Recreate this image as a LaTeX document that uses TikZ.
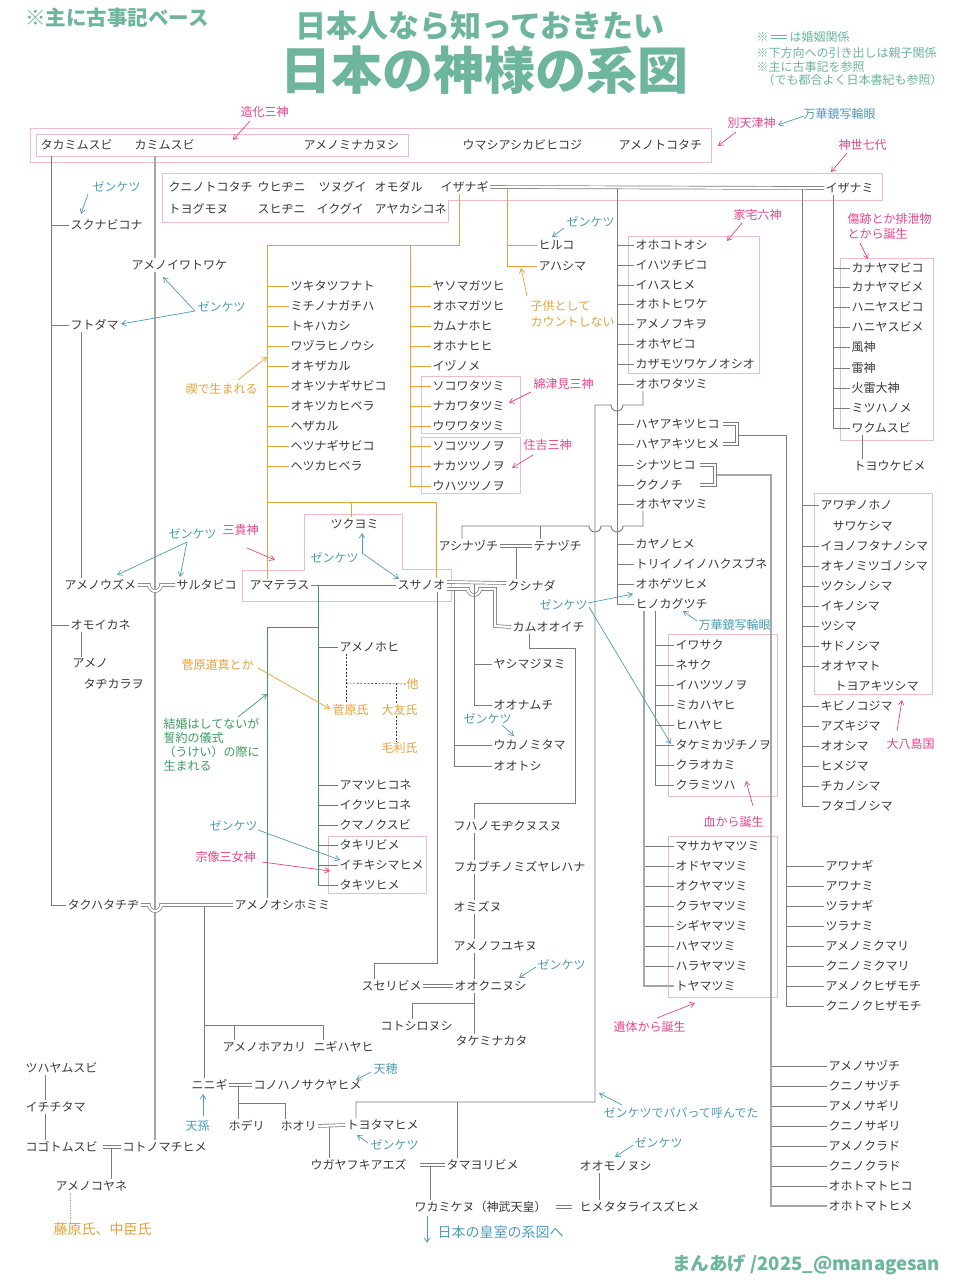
\documentclass[tikz,border=0pt]{standalone}
\usepackage{fontspec}
\setmainfont{Noto Sans CJK JP}
\usetikzlibrary{arrows.meta}
\definecolor{ink}{HTML}{3A3A3A}
\definecolor{ctl}{HTML}{6DB59C}
\definecolor{cpk}{HTML}{E2468C}
\definecolor{cbl}{HTML}{4F9CB9}
\definecolor{cor}{HTML}{E6A23C}
\definecolor{cgr}{HTML}{3E9A60}
\definecolor{cbox}{HTML}{EDBBCF}
\definecolor{cln}{HTML}{7C7C7C}
\definecolor{cln2}{HTML}{A6A6A6}
\tikzset{
  nm/.style={font=\fontsize{12}{13}\selectfont, text=ink, anchor=west, inner sep=1.5pt},
  lab/.style={font=\fontsize{12}{13}\selectfont, anchor=west, inner sep=0.5pt},
  gl/.style={draw=cln, line width=0.9pt},
  glt/.style={draw=cln2, line width=1.4pt},
  ol/.style={draw=cor, line width=0.9pt},
  grl/.style={draw=cgr, line width=0.9pt},
  pbox/.style={draw=cbox, line width=0.9pt},
  marr/.style={draw=cln, double=white, double distance=2.2pt, line width=0.7pt},
  ar/.style={-{Straight Barb[length=4.5pt,width=5.5pt]}, line width=0.7pt},
  dsh/.style={draw=ink, dash pattern=on 2pt off 1.6pt, line width=0.6pt},
}
\begin{document}
\begin{tikzpicture}[x=1pt,y=-1pt]
\useasboundingbox (0,0) rectangle (960,1280);
\fill[white] (0,0) rectangle (960,1280);

% ---------- coordinates ----------
\coordinate (c51) at (51,156);
\coordinate (c155) at (155,156);
\coordinate (c81) at (81,0);
\coordinate (c267) at (267,245);
\coordinate (c459) at (459,245);
\coordinate (c410) at (410,245);
\coordinate (c507) at (507,189);
\coordinate (c617) at (617,189);
\coordinate (c802) at (802,189);
\coordinate (c833) at (833,196);
\coordinate (c862) at (862,440);
\coordinate (c267o) at (267,502);
\coordinate (c436) at (436,502);
\coordinate (c351) at (351,502);
\coordinate (c318) at (318,585);
\coordinate (c318b) at (318,627);
\coordinate (c267g) at (267,627);
\coordinate (c346) at (346,683);
\coordinate (c396) at (396,683);
\coordinate (c643) at (643,405);
\coordinate (c643b) at (643,526);
\coordinate (c462) at (462,526);
\coordinate (c540) at (540,526);
\coordinate (c516) at (516,547);
\coordinate (c474) at (474,584);
\coordinate (c454) at (454,591);
\coordinate (c437) at (437,963);
\coordinate (c374) at (374,963);
\coordinate (c529) at (529,648);
\coordinate (c575) at (575,648);
\coordinate (c575b) at (575,803);
\coordinate (c474b) at (474,803);
\coordinate (c474c) at (474,1003);
\coordinate (c412) at (412,1003);
\coordinate (c356) at (356,1102);
\coordinate (c457) at (457,1102);
\coordinate (c786) at (786,435);
\coordinate (c771) at (771,475);
\coordinate (c655) at (655,0);
\coordinate (c644) at (644,0);
\coordinate (c204) at (204,907);
\coordinate (c204b) at (204,1025);
\coordinate (c234) at (234,1025);
\coordinate (c323) at (323,1025);
\coordinate (c238) at (238,1087);
\coordinate (c238b) at (238,1103);
\coordinate (c285) at (285,1103);
\coordinate (c329) at (329,1127);
\coordinate (c430) at (430,1167);
\coordinate (c599) at (599,0);
\coordinate (c45) at (45,0);
\coordinate (c111) at (111,1149);
\coordinate (c70) at (70,0);

% ---------- titles and notes ----------
\node[font=\bfseries\fontsize{31}{31}\selectfont, text=ctl, inner sep=0] (title1) at (480,26) {日本人なら知っておきたい};
\node[font=\bfseries\fontsize{51}{51}\selectfont, text=ctl, inner sep=0] (title2) at (484,70) {日本の神様の系図};
\node[font=\bfseries\fontsize{20.5}{20.5}\selectfont, text=ctl, anchor=west, inner sep=0] (base) at (25,18) {※主に古事記ベース};
\node[lab, text=ctl] (note1a) at (756,37) {※};
\draw[ctl, double=white, double distance=1.4pt, line width=1.1pt] (771,37) -- (787,37);
\node[lab, text=ctl] (note1b) at (789,37) {は婚姻関係};
\node[lab, text=ctl] (note2) at (756,53) {※下方向への引き出しは親子関係};
\node[lab, text=ctl] (note3) at (756,67) {※主に古事記を参照};
\node[lab, text=ctl] (note4) at (762,80) {（でも都合よく日本書紀も参照）};
\node[font=\bfseries\fontsize{18.5}{18.5}\selectfont, text=ctl, anchor=west, inner sep=0] (credit) at (672,1265) {まんあげ /2025\_@managesan};

% ---------- boxes ----------
\draw[pbox] (30,128) rectangle (711,162);
\draw[pbox] (36,134) rectangle (408,156);
\draw[pbox] (162,173) -- (882,173) -- (882,200) -- (448,200) -- (448,222) -- (162,222) -- cycle;
\draw[pbox] (628,236) rectangle (759,373);
\draw[pbox] (840,258) rectangle (933,440);
\draw[pbox] (421,376) rectangle (520,433);
\draw[pbox] (421,437) rectangle (520,493);
\draw[pbox] (242,570) -- (304,570) -- (304,514) -- (402,514) -- (402,569) -- (451,569) -- (451,601) -- (242,601) -- cycle;
\draw[pbox] (814,493) rectangle (932,694);
\draw[pbox] (668,634) rectangle (777,796);
\draw[pbox] (668,836) rectangle (777,997);
\draw[pbox] (328,836) rectangle (426,893);

% ---------- top rows ----------
\node[nm] (takami) at (39,145) {タカミムスビ};
\node[nm] (kamimu) at (133,145) {カミムスビ};
\node[nm] (minaka) at (302,145) {アメノミナカヌシ};
\node[nm] (umashi) at (461,145) {ウマシアシカビヒコジ};
\node[nm] (tokota) at (617,145) {アメノトコタチ};
\node[nm] (kunito) at (167,187) {クニノトコタチ};
\node[nm] (uhiji) at (256,187) {ウヒヂニ};
\node[nm] (tsunu) at (317,187) {ツヌグイ};
\node[nm] (omoda) at (373,187) {オモダル};
\node[nm] (izanagi) at (439,187) {イザナギ};
\node[nm] (izanami) at (824,188) {イザナミ};
\node[nm] (toyogu) at (167,209) {トヨグモヌ};
\node[nm] (suhiji) at (256,209) {スヒヂニ};
\node[nm] (ikugui) at (315,209) {イクグイ};
\node[nm] (ayaka) at (373,209) {アヤカシコネ};

% ---------- left column ----------
\node[nm] (sukuna) at (69,225) {スクナビコナ};
\node[nm] (ameiwa) at (130,265) {アメノイワトワケ};
\node[nm] (futo) at (69,325) {フトダマ};
\node[nm] (uzume) at (63,585) {アメノウズメ};
\node[nm] (saruta) at (175,585) {サルタビコ};
\node[nm] (omoi) at (69,625) {オモイカネ};
\node[nm] (ameno2) at (71,663) {アメノ};
\node[nm] (tajika) at (82,684) {タヂカラヲ};
\node[nm] (takuha) at (66,905) {タクハタチヂ};

% ---------- Izanagi misogi ----------
\node[nm] (hiruko) at (537,245) {ヒルコ};
\node[nm] (awashima) at (537,266) {アハシマ};
\foreach \t [count=\i] in {ツキタツフナト,ミチノナガチハ,トキハカシ,ワヅラヒノウシ,オキザカル,オキツナギサビコ,オキツカヒベラ,ヘザカル,ヘツナギサビコ,ヘツカヒベラ}{
  \node[nm] (ma\i) at (289,{266+20*\i}) {\t};
  \draw[ol] (ma\i.west) -- (ma\i.west -| c267);
}
\foreach \t [count=\i] in {ヤソマガツヒ,オホマガツヒ,カムナホヒ,オホナヒヒ,イヅノメ,ソコワタツミ,ナカワタツミ,ウワワタツミ,ソコツツノヲ,ナカツツノヲ,ウハツツノヲ}{
  \node[nm] (mb\i) at (431,{266+20*\i}) {\t};
  \draw[ol] (mb\i.west) -- (mb\i.west -| c410);
}
\node[nm] (tsukuyomi) at (329,524) {ツクヨミ};
\node[nm] (amaterasu) at (248,585) {アマテラス};
\node[nm] (susanoo) at (396,585) {スサノオ};

% ---------- ukei children ----------
\foreach \t/\y [count=\i] in {アメノホヒ/647,アマツヒコネ/785,イクツヒコネ/805,クマノクスビ/825,タキリビメ/845,イチキシマヒメ/865,タキツヒメ/885}{
  \node[nm] (gr\i) at (338,\y) {\t};
  \draw[grl] (gr\i.west) -- (gr\i.west -| c318);
}
\node[lab, text=cor] (hoka) at (406,684) {他};
\node[lab, text=cor] (sugawara) at (332,710) {菅原氏};
\node[lab, text=cor] (otomo) at (381,710) {大友氏};
\node[lab, text=cor] (mouri) at (381,748) {毛利氏};
\node[nm] (oshiho) at (233,905) {アメノオシホミミ};

% ---------- Susanoo family ----------
\node[nm] (ashina) at (437,546) {アシナヅチ};
\node[nm] (tena) at (532,546) {テナヅチ};
\node[nm] (kushi) at (506,586) {クシナダ};
\node[nm] (kamuoo) at (511,627) {カムオオイチ};
\node[nm] (yashima) at (492,664) {ヤシマジヌミ};
\node[nm] (oonamu) at (492,705) {オオナムチ};
\node[nm] (ukano) at (492,745) {ウカノミタマ};
\node[nm] (ootoshi) at (492,766) {オオトシ};
\node[nm] (fuha) at (452,826) {フハノモヂクヌスヌ};
\node[nm] (fukabu) at (452,867) {フカブチノミズヤレハナ};
\node[nm] (omizu) at (452,907) {オミズヌ};
\node[nm] (amefuyu) at (452,946) {アメノフユキヌ};
\node[nm] (suseri) at (360,986) {スセリビメ};
\node[nm] (ookuni) at (453,986) {オオクニヌシ};
\node[nm] (kotoshiro) at (379,1026) {コトシロヌシ};
\node[nm] (takemina) at (454,1041) {タケミナカタ};

% ---------- lower left lineage ----------
\node[nm] (hoakari) at (221,1047) {アメノホアカリ};
\node[nm] (nigi) at (312,1047) {ニギハヤヒ};
\node[nm] (ninigi) at (190,1085) {ニニギ};
\node[nm] (konoha) at (252,1085) {コノハノサクヤヒメ};
\node[nm] (hoderi) at (227,1126) {ホデリ};
\node[nm] (hoori) at (279,1126) {ホオリ};
\node[nm] (toyotama) at (345,1125) {トヨタマヒメ};
\node[nm] (ugaya) at (309,1165) {ウガヤフキアエズ};
\node[nm] (tamayori) at (445,1165) {タマヨリビメ};
\node[nm] (oomono) at (578,1166) {オオモノヌシ};
\node[nm] (wakami) at (413,1207) {ワカミケヌ（神武天皇）};
\node[nm] (himetata) at (578,1207) {ヒメタタライスズヒメ};
\node[nm] (tsuhaya) at (24,1068) {ツハヤムスビ};
\node[nm] (ichichi) at (24,1107) {イチチタマ};
\node[nm] (kogoto) at (24,1147) {コゴトムスビ};
\node[nm] (kotono) at (121,1147) {コトノマチヒメ};
\node[nm] (koyane) at (54,1186) {アメノコヤネ};
\node[lab, text=cor, font=\fontsize{14}{15}\selectfont] (fujiwara) at (53,1229) {藤原氏、中臣氏};

% ---------- Izanagi-Izanami main children ----------
\foreach \t/\y [count=\i] in {オホコトオシ/245,イハツチビコ/265,イハスヒメ/285,オホトヒワケ/304,アメノフキヲ/324,オホヤビコ/344,カザモツワケノオシオ/364,オホワタツミ/384,ハヤアキツヒコ/424,ハヤアキツヒメ/444,シナツヒコ/465,ククノチ/485,オホヤマツミ/504,カヤノヒメ/544,トリイノイノハクスブネ/564,オホゲツヒメ/584,ヒノカグツチ/604}{
  \node[nm] (rA\i) at (634,\y) {\t};
  \draw[gl] (rA\i.west) -- (rA\i.west -| c617);
}
\foreach \t/\y [count=\i] in {カナヤマビコ/268,カナヤマビメ/287,ハニヤスビコ/307,ハニヤスビメ/327,風神/347,雷神/368,火雷大神/388,ミツハノメ/408,ワクムスビ/428}{
  \node[nm] (iz\i) at (850,\y) {\t};
  \draw[gl] (iz\i.west) -- (iz\i.west -| c833);
}
\node[nm] (toyouke) at (852,466) {トヨウケビメ};
\foreach \t/\y [count=\i] in {アワヂノホノ/505,イヨノフタナノシマ/546,オキノミツゴノシマ/566,ツクシノシマ/586,イキノシマ/606,ツシマ/626,サドノシマ/646,オオヤマト/666,キビノコジマ/706,アズキジマ/726,オオシマ/746,ヒメジマ/766,チカノシマ/786,フタゴノシマ/806}{
  \node[nm] (is\i) at (819,\y) {\t};
  \draw[gl] (is\i.west) -- (is\i.west -| c802);
}
\node[nm] (sawake) at (831,526) {サワケシマ};
\node[nm] (toyoaki) at (833,686) {トヨアキツシマ};
\foreach \t [count=\i] in {イワサク,ネサク,イハツツノヲ,ミカハヤヒ,ヒハヤヒ,タケミカヅチノヲ,クラオカミ,クラミツハ}{
  \node[nm] (bl\i) at (674,{625+20*\i}) {\t};
  \draw[gl] (bl\i.west) -- (bl\i.west -| c655);
}
\foreach \t [count=\i] in {マサカヤマツミ,オドヤマツミ,オクヤマツミ,クラヤマツミ,シギヤマツミ,ハヤマツミ,ハラヤマツミ,トヤマツミ}{
  \node[nm] (co\i) at (674,{826+20*\i}) {\t};
  \draw[gl] (co\i.west) -- (co\i.west -| c644);
}
\foreach \t [count=\i] in {アワナギ,アワナミ,ツラナギ,ツラナミ,アメノミクマリ,クニノミクマリ,アメノクヒザモチ,クニノクヒザモチ}{
  \node[nm] (rB\i) at (824,{846+20*\i}) {\t};
  \draw[gl] (rB\i.west) -- (rB\i.west -| c786);
}
\foreach \t [count=\i] in {アメノサヅチ,クニノサヅチ,アメノサギリ,クニノサギリ,アメノクラド,クニノクラド,オホトマトヒコ,オホトマトヒメ}{
  \node[nm] (rC\i) at (827,{1046+20*\i}) {\t};
  \draw[gl] (rC\i.west) -- (rC\i.west -| c771);
}

% ---------- grey trunk lines ----------
\draw[gl] (c51) |- (takuha.west);
\draw[gl] (sukuna.west) -- (sukuna.west -| c51);
\draw[gl] (futo.west) -- (futo.west -| c51);
\draw[gl] (omoi.west) -- (omoi.west -| c51);
\draw[glt] (c155) -- (c155 |- ameiwa.north);
\draw[glt] (c155 |- ameiwa.south) -- (c155 |- kotono.north);
\draw[gl] (c81 |- futo.south) -- (c81 |- uzume.north);
\draw[gl] (c81 |- omoi.south) -- (c81 |- ameno2.north);
\draw[marr] (uzume.east) -- (149,585) arc(180:0:6) -- (saruta.west);
\draw[marr] (takuha.east) -- (149,905) arc(180:0:6) -- (oshiho.west);

\draw[marr] (izanagi.east) -- (izanami.west);
\draw[gl] (c617) |- (rA17.west);
\draw[gl] (c802) |- (is14.west);
\draw[gl] (c833 |- izanami.south) |- (iz9.west);
\draw[gl] (c862 |- iz9.south) -- (c862 |- toyouke.north);

% orange misogi lines
\draw[ol] (c507) |- (awashima.west);
\draw[ol] (hiruko.west) -- (hiruko.west -| c507);
\draw[ol] (c459 |- izanagi.south) -- (c459) -- (c267) -- (c267 |- amaterasu.north);
\draw[ol] (c410) |- (mb11.west);
\draw[ol] (c267o) -- (c436) -- (c436 |- susanoo.north);
\draw[ol] (c351) -- (c351 |- tsukuyomi.north);

% green ukei lines
\draw[grl] (amaterasu.east) -- (susanoo.west);
\draw[grl] (c318) |- (gr7.west);
\draw[grl] (c318b) -- (c267g) -- (c267g |- oshiho.north);
\draw[dsh] (c346 |- gr1.south) -- (c346 |- sugawara.north);
\draw[dsh] (c346) -- (hoka.west);
\draw[dsh] (c396) -- (c396 |- otomo.north);
\draw[dsh] (c396 |- otomo.south) -- (c396 |- mouri.north);

% Ohowatatsumi -> Toyotama / Tamayori
\draw[gl] (c643 |- rA8.south) -- (c643) -- (623,405) arc(0:180:6) -- (595,405) -- (595,1102) -- (c356) -- (c356 |- toyotama.north);
\draw[gl] (c457) -- (c457 |- tamayori.north);
% Ohoyamatsumi -> Ashinazuchi / Tenazuchi
\draw[gl] (c643b |- rA13.south) -- (c643b) -- (623,526) arc(0:180:6) -- (601,526) arc(0:180:6) -- (c462) -- (c462 |- ashina.north);
\draw[gl] (c540) -- (c540 |- tena.north);
\draw[marr] (ashina.east) -- (tena.west);
\draw[gl] (c516) -- (c516 |- kushi.north);

% brackets
\draw[marr] ([xshift=2pt]rA9.east) -| (737,434) |- ([xshift=2pt]rA10.east);
\draw[gl] (738.6,435) -- (c786) |- (rB8.west);
\draw[marr] ([xshift=3pt]rA11.east) -| (715,475) |- ([xshift=16pt]rA12.east);
\draw[glt] (716.6,475) -- (c771) |- (rC8.west);

% Kagutsuchi
\draw[gl] (c655 |- rA17.south) |- (bl8.west);
\draw[glt] (c644 |- rA17.south) |- (co8.west);

% Susanoo family
\draw[marr] ([yshift=3pt]susanoo.east) -- ([yshift=3pt]kushi.west);
\draw[marr] ([yshift=-4pt]susanoo.east) -- (468,589) arc(180:0:6) -- (495,589) -- (495,626) -- (kamuoo.west);
\draw[gl] (c474) |- (oonamu.west);
\draw[gl] (yashima.west) -- (yashima.west -| c474);
\draw[gl] (c454) |- (ootoshi.west);
\draw[gl] (ukano.west) -- (ukano.west -| c454);
\draw[gl] (c437 |- susanoo.south) -- (c437) -- (c374) -- (c374 |- suseri.north);
\draw[gl] (c529 |- kamuoo.south) -- (c529) -- (c575) -- (c575b) -- (c474b) -- (c474b |- fuha.north);
\draw[gl] (c474b |- fuha.south) -- (c474b |- fukabu.north);
\draw[gl] (c474b |- fukabu.south) -- (c474b |- omizu.north);
\draw[gl] (c474b |- omizu.south) -- (c474b |- amefuyu.north);
\draw[gl] (c474b |- amefuyu.south) -- (c474b |- ookuni.north);
\draw[marr] (suseri.east) -- (ookuni.west);
\draw[gl] (c474b |- ookuni.south) -- (c474b |- takemina.north);
\draw[gl] (c474c) -- (c412) -- (c412 |- kotoshiro.north);

% Oshihomimi lineage
\draw[gl] (c204) -- (c204 |- ninigi.north);
\draw[gl] (c204b) -- (c323) -- (c323 |- nigi.north);
\draw[gl] (c234) -- (c234 |- hoakari.north);
\draw[marr] (ninigi.east) -- (konoha.west);
\draw[gl] (c238) -- (c238 |- hoderi.north);
\draw[gl] (c238b) -- (c285) -- (c285 |- hoori.north);
\draw[marr] (hoori.east) -- (toyotama.west);
\draw[gl] (c329) -- (c329 |- ugaya.north);
\draw[marr] ([xshift=12pt]ugaya.east) -- (tamayori.west);
\draw[gl] (c430) -- (c430 |- wakami.north);
\draw[marr] ([xshift=8pt]wakami.east) -- ([xshift=-6pt]himetata.west);
\draw[gl] (c599 |- oomono.south) -- (c599 |- himetata.north);
\draw[gl] (c45 |- tsuhaya.south) -- (c45 |- ichichi.north);
\draw[gl] (c45 |- ichichi.south) -- (c45 |- kogoto.north);
\draw[marr] ([xshift=4pt]kogoto.east) -- (kotono.west);
\draw[gl] (c111) -- (c111 |- koyane.north);
\draw[cln2, densely dotted, line width=0.7pt] (c70 |- koyane.south) -- (c70 |- fujiwara.north);

% ---------- annotation labels ----------
\node[lab, text=cpk] (lzoka) at (240,112) {造化三神};
\node[lab, text=cpk] (lbetsu) at (727,123) {別天津神};
\node[lab, text=cbl] (lmange1) at (803,114) {万華鏡写輪眼};
\node[lab, text=cpk] (lkami7) at (838,145) {神世七代};
\node[lab, text=cbl] (z1) at (92,187) {ゼンケツ};
\node[lab, text=cbl] (zhiru) at (566,222) {ゼンケツ};
\node[lab, text=cpk] (lkataku) at (733,215) {家宅六神};
\node[lab, text=cpk] (lkizu1) at (847,219) {傷跡とか排泄物};
\node[lab, text=cpk] (lkizu2) at (847,234) {とから誕生};
\node[lab, text=cor] (lkodo1) at (530,306) {子供として};
\node[lab, text=cor] (lkodo2) at (530,322) {カウントしない};
\node[lab, text=cbl] (z2) at (197,307) {ゼンケツ};
\node[lab, text=cor] (lmiso) at (185,389) {禊で生まれる};
\node[lab, text=cpk] (lwata) at (533,384) {綿津見三神};
\node[lab, text=cpk] (lsumi) at (523,445) {住吉三神};
\node[lab, text=cpk] (lsanki) at (222,530) {三貴神};
\node[lab, text=cbl] (z3) at (168,534) {ゼンケツ};
\node[lab, text=cbl] (ztsuku) at (310,558) {ゼンケツ};
\node[lab, text=cbl] (zkagu) at (539,605) {ゼンケツ};
\node[lab, text=cbl] (lmange2) at (698,625) {万華鏡写輪眼};
\node[lab, text=cor] (lsuga) at (181,665) {菅原道真とか};
\node[lab, text=cgr] (lukei1) at (163,724) {結婚はしてないが};
\node[lab, text=cgr] (lukei2) at (163,738) {誓約の儀式};
\node[lab, text=cgr] (lukei3) at (163,752) {（うけい）の際に};
\node[lab, text=cgr] (lukei4) at (163,766) {生まれる};
\node[lab, text=cbl] (zuka) at (463,719) {ゼンケツ};
\node[lab, text=cpk] (lhachi) at (886,744) {大八島国};
\node[lab, text=cpk] (lchi) at (703,822) {血から誕生};
\node[lab, text=cbl] (zichi) at (209,826) {ゼンケツ};
\node[lab, text=cpk] (lmuna) at (195,857) {宗像三女神};
\node[lab, text=cbl] (zooku) at (537,965) {ゼンケツ};
\node[lab, text=cpk] (litai) at (613,1027) {遺体から誕生};
\node[lab, text=cbl] (ltenho) at (373,1069) {天穂};
\node[lab, text=cbl] (zpapa) at (603,1113) {ゼンケツでパパって呼んでた};
\node[lab, text=cbl] (ltenson) at (185,1126) {天孫};
\node[lab, text=cbl] (ztoyo) at (370,1145) {ゼンケツ};
\node[lab, text=cbl] (zoomono) at (634,1143) {ゼンケツ};
\node[lab, text=cbl, font=\fontsize{14}{15}\selectfont] (lkoshitsu) at (437,1232) {日本の皇室の系図へ};

% ---------- annotation arrows ----------
\draw[ar, cpk] (250,121) -- (233,140);
\draw[ar, cpk] (736,132) -- (718,146);
\draw[ar, cbl] (804,116) -- (778,125);
\draw[ar, cpk] (847,153) -- (831,172);
\draw[ar, cbl] (88,194) -- (81,214);
\draw[ar, cbl] (564,228) -- (552,237);
\draw[ar, cpk] (742,223) -- (727,241);
\draw[ar, cpk] (860,243) -- (868,259);
\draw[ar, cor] (527,296) -- (521,268);
\draw[ar, cbl] (195,311) -- (163,277);
\draw[ar, cbl] (195,311) -- (121,324);
\draw[ar, cor] (238,380) -- (267,357);
\draw[ar, cpk] (531,392) -- (509,403);
\draw[ar, cpk] (533,455) -- (512,468);
\draw[ar, cpk] (247,548) -- (275,560);
\draw[ar, cbl] (187,542) -- (117,575);
\draw[ar, cbl] (187,542) -- (180,577);
\draw[ar, cbl] (362,553) -- (362,533);
\draw[ar, cbl] (362,553) -- (399,579);
\draw[ar, cbl] (588,603) -- (633,594);
\draw[ar, cbl] (589,607) -- (671,744);
\draw[ar, cbl] (697,621) -- (683,611);
\draw[ar, cor] (258,668) -- (330,709);
\draw[ar, cgr] (238,717) -- (267,694);
\draw[ar, cbl] (502,725) -- (514,736);
\draw[ar, cpk] (897,731) -- (902,700);
\draw[ar, cpk] (753,806) -- (746,781);
\draw[ar, cbl] (258,830) -- (340,860);
\draw[ar, cpk] (262,862) -- (330,871);
\draw[ar, cbl] (536,967) -- (519,978);
\draw[ar, cpk] (657,1018) -- (695,1003);
\draw[ar, cbl] (371,1072) -- (356,1080);
\draw[ar, cbl] (622,1105) -- (599,1093);
\draw[ar, cbl] (203,1116) -- (203,1094);
\draw[ar, cbl] (368,1143) -- (357,1135);
\draw[ar, cbl] (633,1145) -- (615,1157);
\draw[ar, cbl] (427,1216) -- (427,1243);
\end{tikzpicture}
\end{document}
